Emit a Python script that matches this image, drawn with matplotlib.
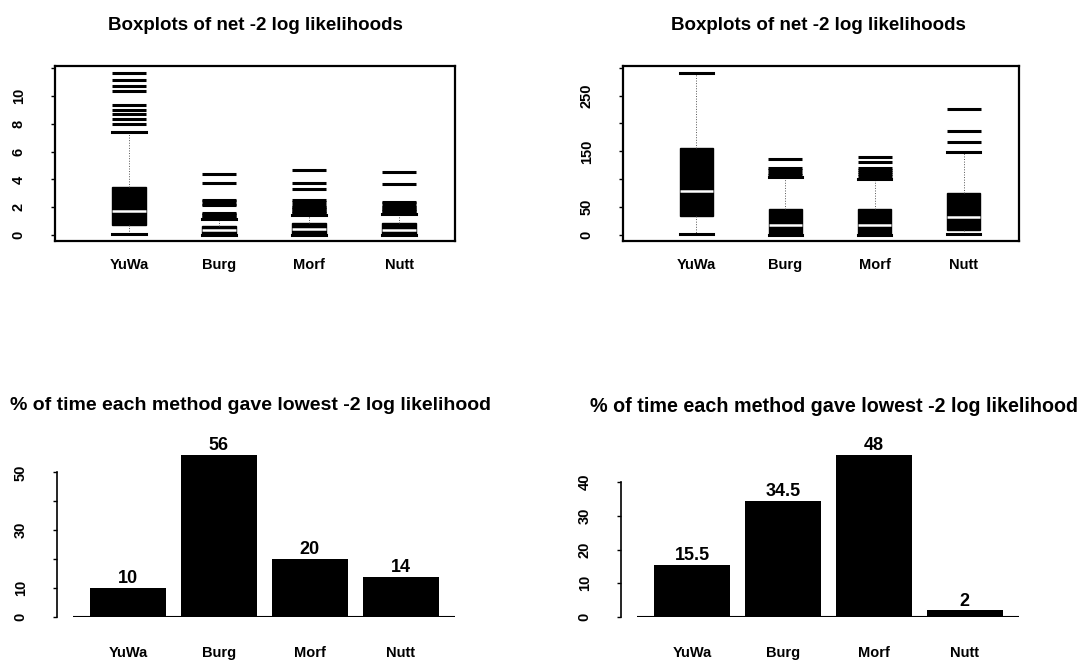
import matplotlib.pyplot as plt

plt.rcParams['font.family'] = ['Liberation Sans', 'DejaVu Sans']

methods = ['YuWa', 'Burg', 'Morf', 'Nutt']
positions = [1, 2, 3, 4]

# left boxplots: net -2 log likelihoods (small scale)
left_q1 = [0.72, 0.0, 0.0, 0.0]
left_med = [1.72, 0.34, 0.43, 0.36]
left_q3 = [3.47, 0.65, 0.84, 0.84]
left_lo = [0.05, 0.0, 0.0, 0.0]
left_hi = [7.42, 1.12, 1.45, 1.5]
left_out = [
    [7.97, 8.33, 8.68, 8.97, 9.38, 10.33, 10.74, 11.17, 11.65],
    [1.22, 1.32, 1.42, 1.52, 1.6, 2.15, 2.22, 2.45, 2.52, 3.72, 4.39],
    [1.55, 1.65, 1.75, 1.85, 1.95, 2.05, 2.15, 2.4, 2.5, 3.31, 3.72, 4.68],
    [1.6, 1.7, 1.8, 1.9, 2.0, 2.08, 2.32, 2.4, 3.65, 4.53],
]

# right boxplots: net -2 log likelihoods (large scale)
right_q1 = [34, 0, 0, 9]
right_med = [79, 18, 18, 33]
right_q3 = [156, 46, 46, 75]
right_lo = [2, 0, 0, 1]
right_hi = [290, 104, 100, 148]
right_out = [
    [],
    [108, 112, 116, 120, 136],
    [106, 109, 113, 117, 120, 131, 139],
    [166, 186, 226],
]

# % of time each method gave lowest -2 log likelihood
left_pct = [10, 56, 20, 14]
right_pct = [15.5, 34.5, 48, 2]

title_box = 'Boxplots of net -2 log likelihoods'
title_bar = '% of time each method gave lowest -2 log likelihood'

fig = plt.figure(figsize=(10.84, 6.6), dpi=100)
W, H = 1084, 660


def px_axes(x0, x1, ytop, ybot):
    return fig.add_axes([x0 / W, (H - ybot) / H, (x1 - x0) / W, (ybot - ytop) / H])


def draw_box(ax, q1, med, q3, lo, hi, out, yticks, ylabels, ylim):
    stats = []
    for i in range(len(methods)):
        stats.append(dict(q1=q1[i], med=med[i], q3=q3[i], whislo=lo[i],
                          whishi=hi[i], fliers=out[i], label=methods[i]))
    ax.bxp(stats, positions=positions, widths=0.37, capwidths=0.37,
           patch_artist=True, showfliers=True,
           boxprops=dict(facecolor='black', edgecolor='black', linewidth=1),
           medianprops=dict(color='white', linewidth=1.8),
           whiskerprops=dict(color='#555555', linewidth=0.7, linestyle=':'),
           capprops=dict(color='black', linewidth=2.2),
           flierprops=dict(marker='_', markersize=24, markeredgewidth=2.2,
                           markeredgecolor='black'))
    ax.set_xlim(0.18, 4.62)
    ax.set_ylim(*ylim)
    ax.set_yticks(yticks)
    ax.set_yticklabels(ylabels, rotation=90, va='center', fontsize=10.5,
                       fontweight='bold')
    ax.set_xticks(positions)
    ax.set_xticklabels(methods, fontsize=10.5, fontweight='bold')
    ax.tick_params(axis='x', length=0, pad=12)
    ax.tick_params(axis='y', length=3, width=1, pad=18)
    for s in ax.spines.values():
        s.set_linewidth(1.6)


def draw_bars(ax, vals, yticks, ylabels):
    x = list(range(len(methods)))
    ax.bar(x, vals, width=0.835, color='black')
    ax.hlines(0, -0.6, len(methods) - 1 + 0.6, color='black', linewidth=1.5)
    for xi, v in zip(x, vals):
        ax.annotate('%g' % v, (xi, v), xytext=(0, 0.5), textcoords='offset points',
                    ha='center', va='bottom', fontsize=13, fontweight='bold')
    ax.set_xlim(-0.78, 3.65)
    ax.set_ylim(0, max(vals))
    ax.set_yticks(yticks)
    ax.set_yticklabels(ylabels, rotation=90, va='center', fontsize=10.5,
                       fontweight='bold')
    ax.set_xticks(x)
    ax.set_xticklabels(methods, fontsize=10.5, fontweight='bold')
    ax.tick_params(axis='x', length=0, pad=21)
    ax.tick_params(axis='y', length=3, width=1, pad=18)
    for side in ['top', 'right', 'bottom']:
        ax.spines[side].set_visible(False)
    ax.spines['left'].set_bounds(yticks[0], yticks[-1])
    ax.spines['left'].set_linewidth(1.2)


ax1 = px_axes(55, 455, 66, 241)
draw_box(ax1, left_q1, left_med, left_q3, left_lo, left_hi, left_out,
         [0, 2, 4, 6, 8, 10, 12], ['0', '2', '4', '6', '8', '10', ''], (-0.43, 12.16))

ax2 = px_axes(623, 1019, 66, 241)
draw_box(ax2, right_q1, right_med, right_q3, right_lo, right_hi, right_out,
         [0, 50, 100, 150, 200, 250, 300], ['0', '50', '', '150', '', '250', ''], (-10.8, 303))

ax3 = px_axes(57, 460, 455, 617)
draw_bars(ax3, left_pct, [0, 10, 20, 30, 40, 50], ['0', '10', '', '30', '', '50'])

ax4 = px_axes(621, 1024, 455, 617)
draw_bars(ax4, right_pct, [0, 10, 20, 30, 40], ['0', '10', '20', '30', '40'])

fig.text(255 / W, 1 - 25 / H, title_box, ha='center', va='center',
         fontsize=13.5, fontweight='bold')
fig.text(818 / W, 1 - 25 / H, title_box, ha='center', va='center',
         fontsize=13.5, fontweight='bold')
fig.text(250 / W, 1 - 406 / H, title_bar, ha='center', va='center',
         fontsize=14, fontweight='bold')
fig.text(834 / W, 1 - 406 / H, title_bar, ha='center', va='center',
         fontsize=14.2, fontweight='bold')

fig.savefig('out.png', dpi=100)
